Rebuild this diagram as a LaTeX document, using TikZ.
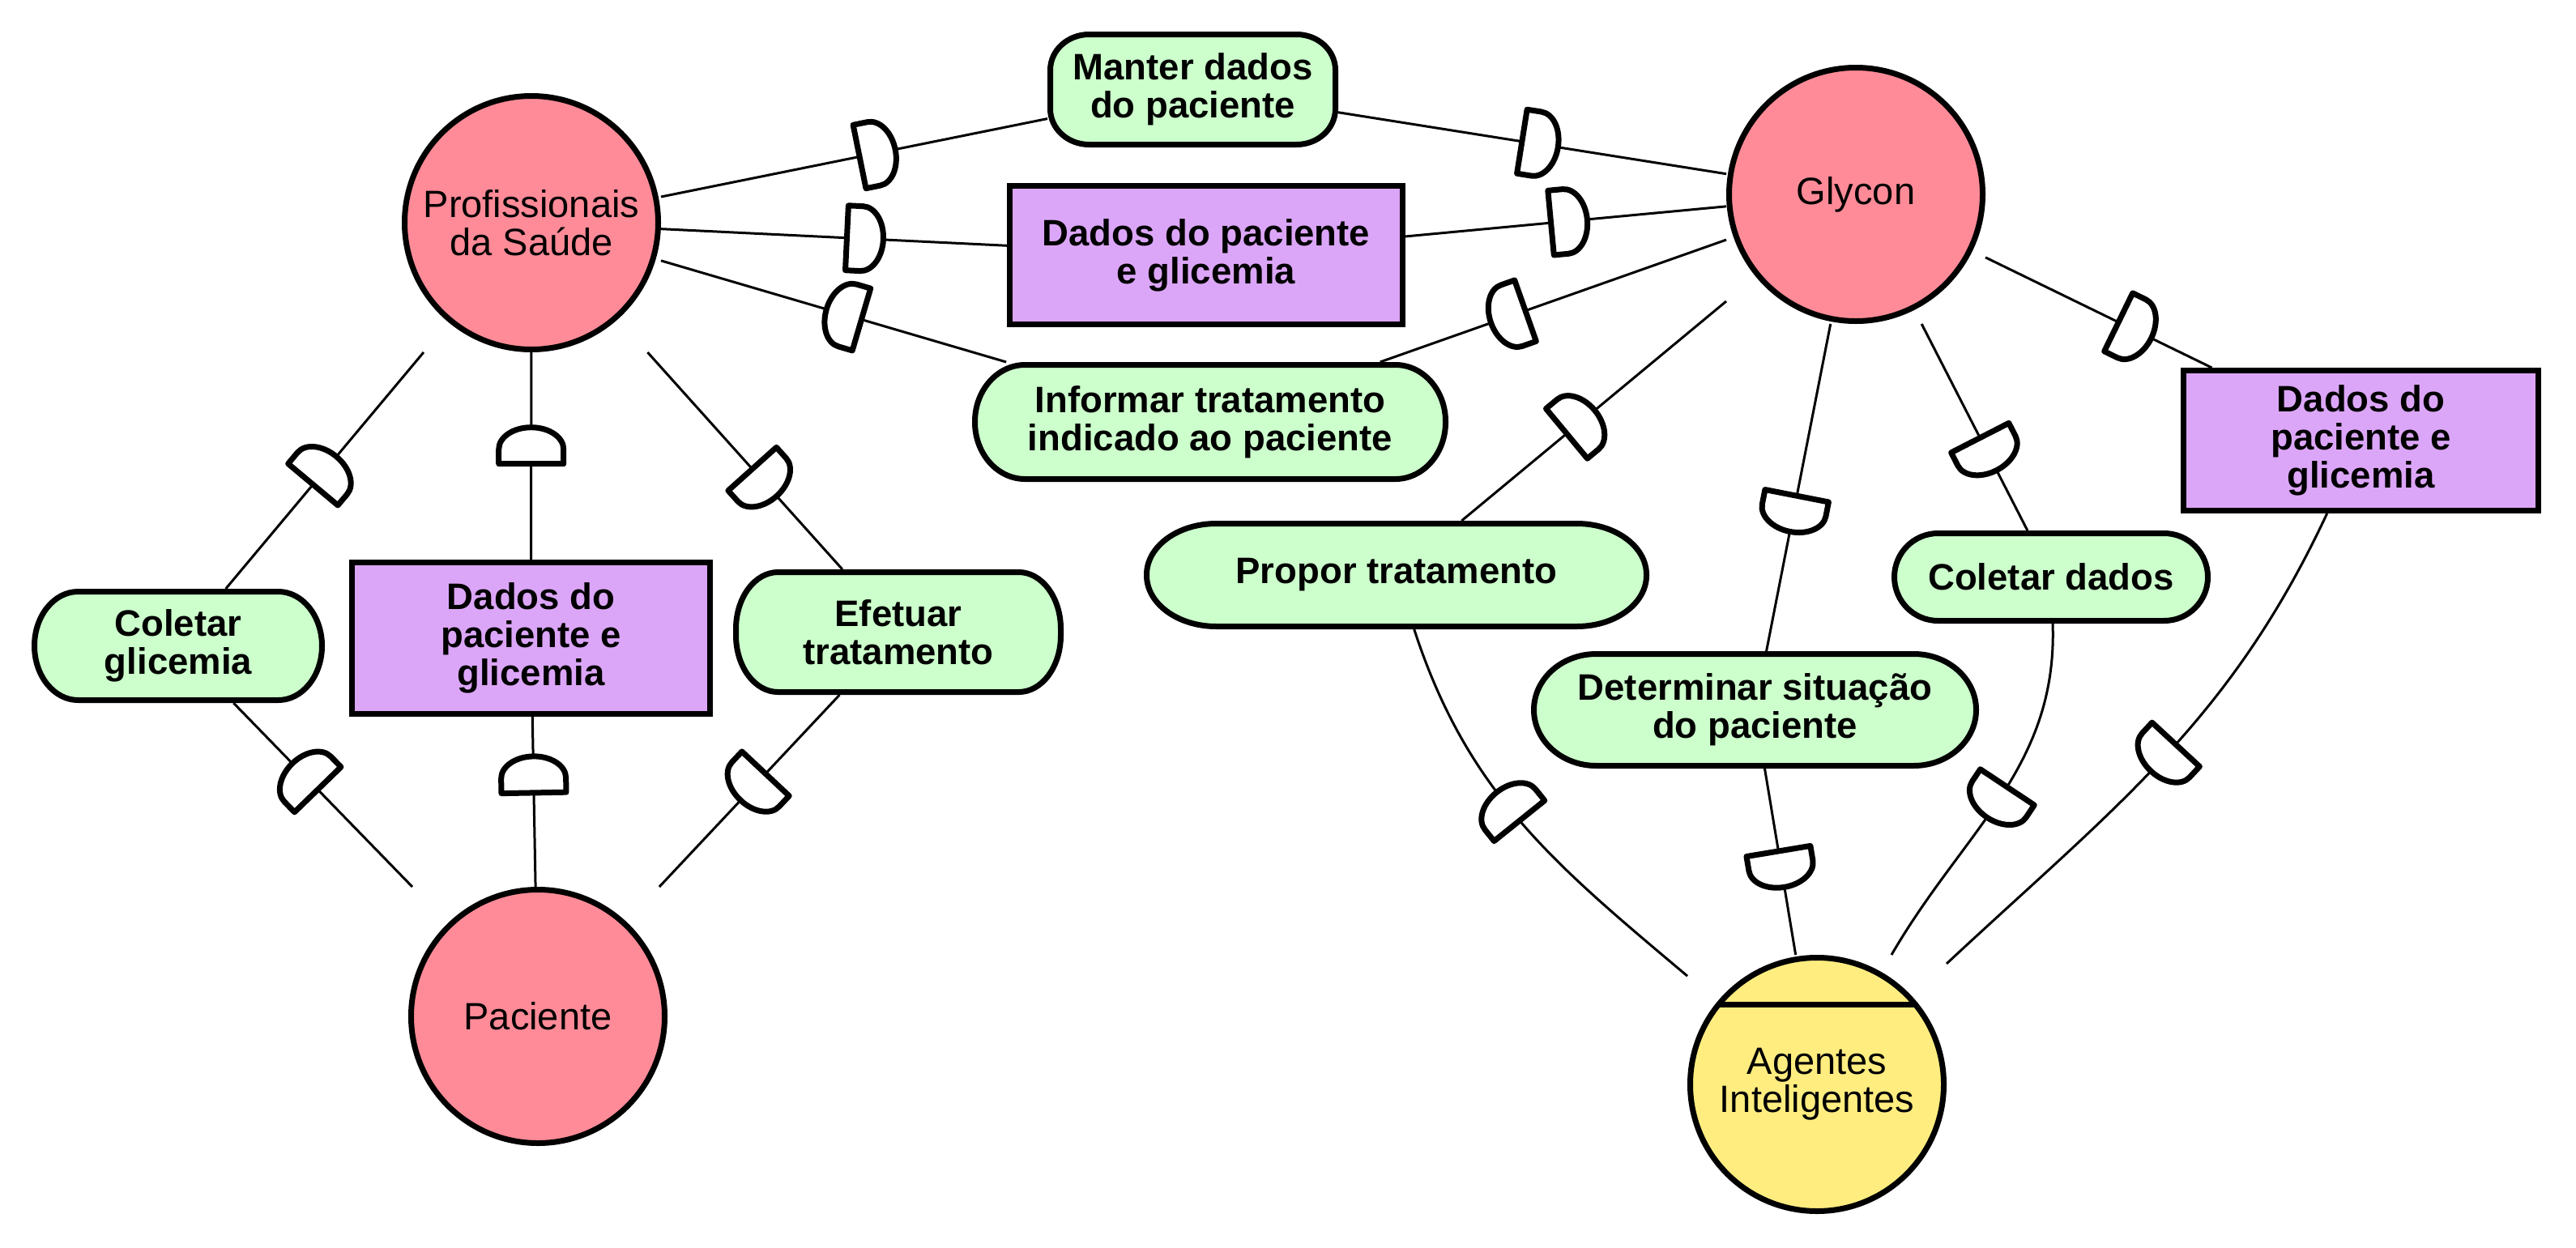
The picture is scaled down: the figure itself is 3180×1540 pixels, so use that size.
\documentclass[tikz,border=0pt]{standalone}
\usepackage{fontspec}
\setmainfont{Liberation Sans}
\usetikzlibrary{calc}
\pgfdeclarelayer{paper}
\pgfdeclarelayer{bg}
\pgfsetlayers{paper,bg,main}
\definecolor{actorpink}{RGB}{255,139,152}
\definecolor{goalgreen}{RGB}{204,255,204}
\definecolor{respurple}{RGB}{220,166,248}
\definecolor{agentyellow}{RGB}{255,237,128}
\newcommand\dsym{\tikz\draw[line width=7pt,fill=white,line join=round] (0pt,-40pt) -- (0pt,40pt) -- (18pt,40pt) arc[start angle=90,end angle=-90,x radius=27pt,y radius=40pt] -- cycle;}
\begin{document}
\begin{tikzpicture}[x=1pt,y=1pt,
  actor/.style={circle, draw, line width=7pt, minimum size=313pt, inner sep=0pt, align=center,
    font=\fontsize{47pt}{47pt}\selectfont},
  bbox/.style={rectangle, minimum size=320pt, inner sep=0pt, outer sep=0pt},
  goal/.style={rectangle, inner sep=0pt, outer sep=0pt,
    align=center, font=\bfseries\fontsize{45.5pt}{47pt}\selectfont},
  goalshape/.style={draw, line width=7pt, fill=goalgreen},
  res/.style={draw, line width=7pt, fill=respurple, inner sep=0pt,
    align=center, font=\bfseries\fontsize{45.5pt}{47pt}\selectfont},
  link/.style={line width=3pt},
  dep/.style={pos=#1, sloped, allow upside down, inner sep=0pt, outer sep=0pt}
]
\begin{pgfonlayer}{paper}
\useasboundingbox[fill=white] (0,0) rectangle (3180,-1540);
\end{pgfonlayer}

% actors
\node[actor, fill=actorpink] (prof) at (656,-275) {Profissionais\\da Saúde};
\node[bbox] (profb) at (prof.center) {};
\node[actor, fill=actorpink] (paciente) at (664,-1255) {Paciente};
\node[bbox] (pacienteb) at (paciente.center) {};
\node[actor, fill=actorpink] (glycon) at (2291,-240) {Glycon};
\node[bbox] (glyconb) at (glycon.center) {};
\node[actor, fill=agentyellow] (agentes) at (2243,-1339) {Agentes\\Inteligentes};
\node[bbox] (agentesb) at (agentes.center) {};
\draw[line width=7pt] ($(agentes.center)+(-121,99)$) -- ($(agentes.center)+(121,99)$);

% goals (outer size) and resources
\node[goal, minimum width=362pt, minimum height=141pt] (coletarG) at (220,-797.5) {Coletar\\glicemia};
\node[res, minimum width=442pt, minimum height=187pt] (dadosL) at (655.5,-788) {Dados do\\paciente e\\glicemia};
\node[goal, minimum width=408pt, minimum height=155pt] (efetuar) at (1109,-780.5) {Efetuar\\tratamento};
\node[goal, minimum width=359pt, minimum height=143pt] (manter) at (1472.5,-110.5) {Manter dados\\do paciente};
\node[res, minimum width=485pt, minimum height=171pt] (dadosM) at (1489,-315) {Dados do paciente\\e glicemia};
\node[goal, minimum width=588pt, minimum height=148pt] (informar) at (1494,-521) {Informar tratamento\\indicado ao paciente};
\node[res, minimum width=438pt, minimum height=173pt] (dadosR) at (2914.5,-544) {Dados do\\paciente e\\glicemia};
\node[goal, minimum width=394pt, minimum height=115pt] (coletarD) at (2532,-712.5) {Coletar dados};
\node[goal, minimum width=624pt, minimum height=134pt] (propor) at (1724,-710) {Propor tratamento};
\node[goal, minimum width=553pt, minimum height=145pt] (determinar) at (2166.5,-876.5) {Determinar situação\\do paciente};

\begin{pgfonlayer}{bg}
\foreach \nd/\rx/\ry in {coletarG/54/67, efetuar/52/70, manter/48/44, informar/62/70,
    propor/86/63, determinar/77/69, coletarD/54/54}{
  \draw[goalshape] let \p1=($(\nd.north west)+(3.5,-3.5)$), \p2=($(\nd.south east)+(-3.5,3.5)$) in
    ({\x1+\rx},\y1) -- ({\x2-\rx},\y1) arc[start angle=90,end angle=0,x radius=\rx,y radius=\ry]
    -- (\x2,{\y2+\ry}) arc[start angle=0,end angle=-90,x radius=\rx,y radius=\ry]
    -- ({\x1+\rx},\y2) arc[start angle=270,end angle=180,x radius=\rx,y radius=\ry]
    -- (\x1,{\y1-\ry}) arc[start angle=180,end angle=90,x radius=\rx,y radius=\ry] -- cycle;
}
\end{pgfonlayer}

% dependencies, left
\draw[link] (pacienteb) -- node[dep=0.60]{\dsym} (coletarG);
\draw[link] (coletarG) -- node[dep=0.50]{\dsym} (profb);
\draw[link] (pacienteb) -- node[dep=0.66]{\dsym} (dadosL);
\draw[link] (dadosL) -- node[dep=0.55]{\dsym} (profb);
\draw[link] (profb) -- node[dep=0.60]{\dsym} (efetuar);
\draw[link] (efetuar) -- node[dep=0.48]{\dsym} (pacienteb);
% middle
\draw[link] (profb) -- node[dep=0.56]{\dsym} (manter);
\draw[link] (manter) -- node[dep=0.52]{\dsym} (glyconb);
\draw[link] (profb) -- node[dep=0.59]{\dsym} (dadosM);
\draw[link] (dadosM) -- node[dep=0.51]{\dsym} (glyconb);
\draw[link] (glyconb) -- node[dep=0.63]{\dsym} (informar);
\draw[link] (informar) -- node[dep=0.47]{\dsym} (profb);
% right
\draw[link] (agentesb) to[out=140,in=-72] node[dep=0.55]{\dsym} (propor);
\draw[link] (propor) -- node[dep=0.45]{\dsym} (glyconb);
\draw[link] (glyconb) -- node[dep=0.58]{\dsym} (determinar);
\draw[link] (determinar) -- node[dep=0.54]{\dsym} (agentesb);
\draw[link] (glyconb) -- node[dep=0.63]{\dsym} (coletarD);
\draw[link] (coletarD) to[out=-88,in=60] node[dep=0.52]{\dsym} (agentesb);
\draw[link] (glyconb) -- node[dep=0.66]{\dsym} (dadosR);
\draw[link] (dadosR) to[out=-115,in=43] node[dep=0.50]{\dsym} (agentesb);
\end{tikzpicture}
\end{document}
